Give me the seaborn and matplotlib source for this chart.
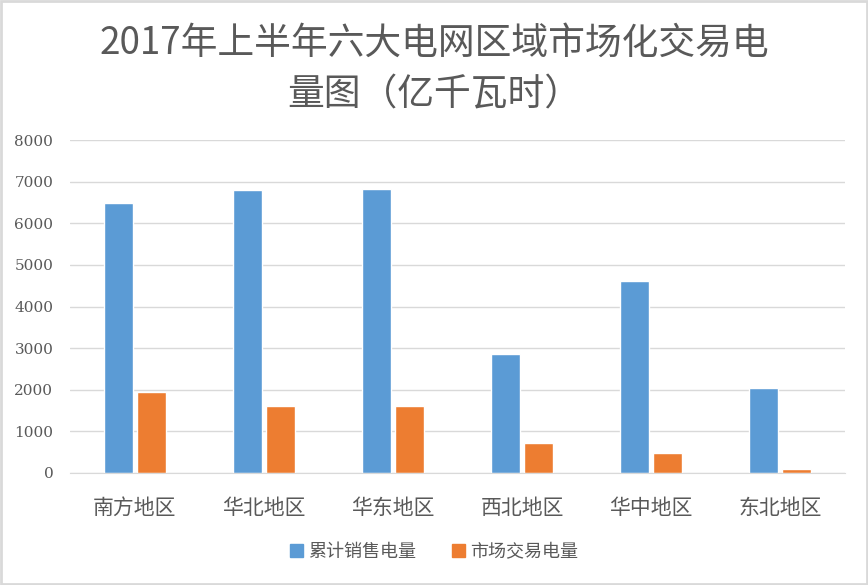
import pandas as pd
import matplotlib
matplotlib.use("Agg")
import matplotlib.pyplot as plt
import seaborn as sns

# data (亿千瓦时)
regions = ["南方地区", "华北地区", "华东地区", "西北地区", "华中地区", "东北地区"]
series_names = ["累计销售电量", "市场交易电量"]
total_sales = [6490, 6800, 6820, 2860, 4610, 2040]
market_trade = [1950, 1610, 1610, 725, 485, 105]
yticks = [0, 1000, 2000, 3000, 4000, 5000, 6000, 7000, 8000]

df = pd.DataFrame({
    "region": regions * 2,
    "series": [series_names[0]] * len(regions) + [series_names[1]] * len(regions),
    "value": total_sales + market_trade,
})

sns.set_style("white")
plt.rcParams["font.family"] = ["Noto Sans CJK SC", "DejaVu Sans"]

fig = plt.figure(figsize=(8.68, 5.85), dpi=100)
ax = fig.add_axes([70 / 868, 1 - 473 / 585, 775 / 868, 333 / 585])

sns.barplot(data=df, x="region", y="value", hue="series",
            palette=["#5B9BD5", "#ED7D31"], width=0.51, gap=0.12,
            saturation=1, ax=ax, legend=False)

ax.set_ylim(0, 8000)
ax.set_yticks(yticks)
ax.set_yticklabels([str(t) for t in yticks], fontsize=11, color="#595959",
                   family=["DejaVu Serif"])
ax.set_xlim(-0.5, len(regions) - 0.5)
ax.tick_params(axis="x", labelsize=15, labelcolor="#595959", length=0, pad=17)
ax.tick_params(axis="y", length=0, pad=12)
ax.set_xlabel("")
ax.set_ylabel("")
ax.yaxis.grid(True, color="#D9D9D9", linewidth=1)
ax.set_axisbelow(True)
for s in ["top", "right", "left"]:
    ax.spines[s].set_visible(False)
ax.spines["bottom"].set_color("#D9D9D9")

fig.text(0.5, 1 - 43 / 585, "2017年上半年六大电网区域市场化交易电",
         ha="center", va="center", fontsize=26.5, color="#595959")
fig.text(0.5, 1 - 95 / 585, "量图（亿千瓦时）",
         ha="center", va="center", fontsize=26.5, color="#595959")

handles = [plt.Rectangle((0, 0), 1, 1, color=c) for c in ["#5B9BD5", "#ED7D31"]]
fig.legend(handles, series_names, loc="center", bbox_to_anchor=(0.5, 1 - 552 / 585),
           ncol=2, frameon=False, fontsize=13, handlelength=0.7, handleheight=0.7,
           handletextpad=0.3, columnspacing=2.0, labelcolor="#595959")

# light frame round the picture
fig.patches.append(plt.Rectangle((0.001, 0.001), 0.998, 0.997, transform=fig.transFigure,
                                 fill=False, edgecolor="#D9D9D9", linewidth=2))

fig.savefig("out.png", dpi=100)
